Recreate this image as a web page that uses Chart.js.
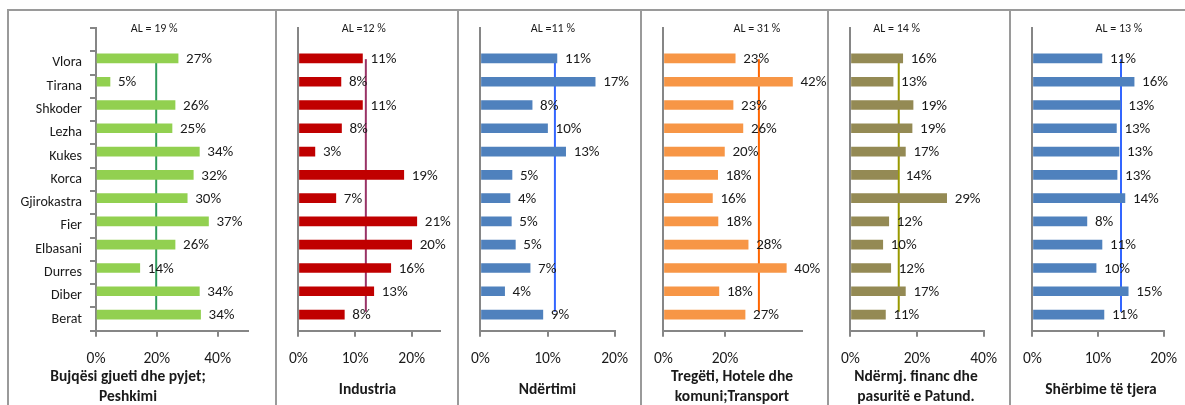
<!DOCTYPE html>
<html>
<head>
<meta charset="utf-8">
<script src="https://cdn.jsdelivr.net/npm/chart.js@4/dist/chart.umd.min.js"></script>
<style>
  html, body { margin: 0; padding: 0; background: #fff; overflow: hidden; }
  body { width: 1185px; height: 405px; position: relative; }
  canvas { position: absolute; top: 10px; }
  .rule { position: absolute; background: #9a9a9a; }
</style>
</head>
<body>
<script>
// district names, top slot left empty for the AL label
const categories = ['', 'Vlora', 'Tirana', 'Shkoder', 'Lezha', 'Kukes', 'Korca',
  'Gjirokastra', 'Fier', 'Elbasani', 'Durres', 'Diber', 'Berat'];

// shares per sector (%), same order as categories (without the empty slot)
const agriculture = [27, 4.6, 26, 25, 34, 32, 30, 37, 26, 14.4, 34, 34.4];
const industry    = [11.3, 7.5, 11.3, 7.6, 2.9, 18.6, 6.6, 20.9, 20, 16.3, 13.3, 8.1];
const construct   = [11.4, 17.1, 7.7, 10, 12.7, 4.7, 4.4, 4.6, 5.2, 7.4, 3.6, 9.3];
const trade       = [23.3, 41.9, 22.6, 25.8, 19.8, 17.6, 15.9, 17.7, 27.5, 39.9, 18, 26.5];
const finance     = [15.7, 12.8, 18.8, 18.5, 16.5, 14.2, 28.9, 11.5, 9.7, 12.1, 16.5, 10.5];
const services    = [10.6, 15.5, 13.4, 12.8, 13.2, 12.9, 14.1, 8.3, 10.6, 9.7, 14.6, 10.9];

// national average (AL) lines and their captions
const alValues = [19.8, 11.9, 11.1, 31, 14.5, 13.5];
const alLabels = ['AL = 19 %', 'AL =12 %', 'AL =11 %', 'AL = 31 %', 'AL = 14 %', 'AL = 13 %'];

const sectorTitles = [
  ['Bujqësi gjueti dhe pyjet;', 'Peshkimi'],
  ['Industria'],
  ['Ndërtimi'],
  ['Tregëti, Hotele dhe', 'komuni;Transport'],
  ['Ndërmj. financ dhe', 'pasuritë e Patund.'],
  ['Shërbime të tjera']
];
const axisMax  = [50, 25, 20, 45, 40, 20];
const axisStep = [20, 10, 10, 20, 20, 10];

const series = [agriculture, industry, construct, trade, finance, services];

// layout / look
const panels = [
  { left: 8,    width: 268, padL: 88, padR: 28, bar: '#92D050', line: '#2F9B5E' },
  { left: 276,  width: 182, padL: 19, padR: 18, bar: '#C00000', line: '#993366' },
  { left: 458,  width: 183, padL: 19, padR: 23, bar: '#4F81BD', line: '#3366FF' },
  { left: 641,  width: 187, padL: 21, padR: 26, bar: '#F79646', line: '#FF6600' },
  { left: 828,  width: 182, padL: 18, padR: 24, bar: '#948A54', line: '#999900' },
  { left: 1010, width: 180, padL: 21, padR: 19, bar: '#4F81BD', line: '#3366FF' }
];
const FONT = 'Carlito, Lato, sans-serif';
const AXIS = '#868686';
const TEXT = '#1a1a1a';

// frame lines
function rule(x, y, w, h) {
  const d = document.createElement('div');
  d.className = 'rule';
  d.style.left = x + 'px'; d.style.top = y + 'px';
  d.style.width = w + 'px'; d.style.height = h + 'px';
  document.body.appendChild(d);
}
rule(8, 9, 1185, 2);
panels.forEach(p => rule(p.left - 1, 9, 2, 400));

const labelPlugin = {
  id: 'labels',
  afterDatasetsDraw(chart, args, opts) {
    const ctx = chart.ctx;
    const meta = chart.getDatasetMeta(0);
    ctx.save();
    ctx.fillStyle = TEXT;
    ctx.font = '15px ' + FONT;
    ctx.textBaseline = 'middle';
    ctx.textAlign = 'left';
    meta.data.forEach((bar, i) => {
      const v = chart.data.datasets[0].data[i];
      if (v == null) return;
      ctx.fillText(Math.round(v) + '%', bar.x + 8, bar.y + 1);
    });
    const x = chart.scales.x.getPixelForValue(opts.al);
    ctx.font = '12px ' + FONT;
    ctx.textAlign = 'center';
    ctx.fillText(opts.alText, x - 2, chart.chartArea.top + 1);
    ctx.restore();
  }
};

panels.forEach((p, k) => {
  const cv = document.createElement('canvas');
  cv.width = p.width; cv.height = 398;
  cv.style.left = p.left + 'px';
  document.body.appendChild(cv);

  const twoLines = sectorTitles[k].length > 1;
  const step = axisStep[k];

  new Chart(cv, {
    type: 'bar',
    data: {
      labels: categories,
      datasets: [
        {
          data: [null].concat(series[k]),
          backgroundColor: p.bar,
          barThickness: 9
        },
        {
          type: 'line',
          data: [{ x: alValues[k], y: 0 }, { x: alValues[k], y: 12.4 }],
          yAxisID: 'yl',
          borderColor: p.line,
          borderWidth: 2,
          pointRadius: 0,
          clip: false
        }
      ]
    },
    options: {
      indexAxis: 'y',
      responsive: false,
      animation: false,
      devicePixelRatio: 1,
      layout: { padding: { top: 18, left: k === 0 ? 0 : p.padL, right: p.padR, bottom: 0 } },
      plugins: {
        legend: { display: false },
        tooltip: { enabled: false },
        title: {
          display: true,
          position: 'bottom',
          text: sectorTitles[k],
          color: TEXT,
          font: { family: FONT, size: 15.5, weight: 'bold', lineHeight: 1.3 },
          padding: twoLines ? { top: 0, bottom: 1 } : { top: 13, bottom: 8.15 }
        },
        labels: { al: alValues[k], alText: alLabels[k] }
      },
      scales: {
        x: {
          min: 0,
          max: axisMax[k],
          afterBuildTicks: s => { s.ticks = s.ticks.filter(t => t.value % step === 0); },
          afterFit: s => { s.height = 36; },
          ticks: {
            stepSize: step,
            padding: 13,
            color: TEXT,
            font: { family: FONT, size: 15.5 },
            callback: v => v + '%'
          },
          grid: { drawOnChartArea: false, color: AXIS, lineWidth: 2, tickLength: 6 },
          border: { display: true, color: AXIS, width: 2 }
        },
        y: {
          afterFit: s => { s.width = k === 0 ? p.padL : 0; },
          ticks: {
            display: k === 0,
            padding: 8,
            color: TEXT,
            font: { family: FONT, size: 14 }
          },
          grid: {
            drawOnChartArea: false,
            drawTicks: k === 0,
            display: k === 0,
            color: AXIS,
            lineWidth: 2,
            tickLength: 6
          },
          border: { display: true, color: AXIS, width: 2 }
        },
        yl: {
          type: 'linear',
          axis: 'y',
          position: 'right',
          display: false,
          min: 0,
          max: 13
        }
      }
    },
    plugins: [labelPlugin]
  });
});
</script>
</body>
</html>
